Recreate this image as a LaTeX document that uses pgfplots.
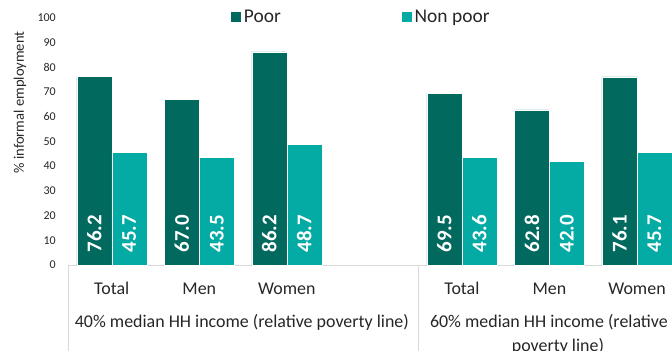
\documentclass[border=0pt]{standalone}
\usepackage{pgfplots}
\pgfplotsset{compat=1.18}
\usetikzlibrary{calc}
\usepackage{fontspec}
\setmainfont{Carlito}
\definecolor{poor}{HTML}{02695F}
\definecolor{nonpoor}{HTML}{04ABA5}
\definecolor{axgray}{HTML}{D9D9D9}
\definecolor{txt}{HTML}{262626}
\begin{document}
\begin{tikzpicture}
\begin{axis}[
  name=ax,
  scale only axis,
  width=604bp, height=247.2bp,
  ymin=0, ymax=100,
  xmin=-0.5, xmax=6.4,
  ytick={0,10,...,100},
  xtick={0,1,2,4,5,6},
  xticklabels={Total,Men,Women,Total,Men,Women},
  major tick length=0pt,
  axis x line*=bottom,
  axis y line*=left,
  y axis line style={draw=none},
  x axis line style={draw=axgray, line width=0.8pt, -},
  /pgf/number format/assume math mode=true,
  yticklabel style={anchor=east, inner sep=0pt, xshift=-12bp, font=\fontsize{12}{14}\selectfont, text=txt},
  xticklabel style={anchor=base, inner sep=0pt, yshift=-29.5bp, font=\fontsize{18}{21}\selectfont, text=txt},
  ybar=0pt, bar width=0.4,
  clip mode=individual,
  visualization depends on={y \as \rawy},
  nodes near coords={\pgfmathprintnumber[fixed,fixed zerofill,precision=1]{\pgfplotspointmeta}},
  every node near coord/.append style={shift={(axis direction cs:0,-\rawy)}, yshift=12.5bp, rotate=90, anchor=west, inner sep=0pt, text=white, font=\bfseries\fontsize{21}{23}\selectfont},
  legend columns=2,
  legend style={at={(rel axis cs:0.2682,1)}, anchor=west, yshift=1bp, draw=none, fill=none, inner sep=0pt, outer sep=0pt,
    font=\fontsize{19.5}{22}\selectfont, text=txt,
    nodes={inner sep=2bp},
    /tikz/every odd column/.append style={column sep=0bp},
    /tikz/every even column/.append style={column sep=118bp}},
  legend image code/.code={\fill[#1] (0bp,-5.6bp) rectangle (11.5bp,5.6bp);},
]
\addplot[fill=poor, draw=white, line width=0.4pt] coordinates {(0,76.2) (1,67.0) (2,86.2) (4,69.5) (5,62.8) (6,76.1)};
\addplot[fill=nonpoor, draw=white, line width=0.4pt] coordinates {(0,45.7) (1,43.5) (2,48.7) (4,43.6) (5,42.0) (6,45.7)};
\legend{Poor, Non poor}
\draw[axgray, line width=0.8pt] (axis cs:-0.5,0) -- ++(0bp,-90bp);
\draw[axgray, line width=0.8pt] (axis cs:3.5,0) -- ++(0bp,-90bp);
\node[anchor=base, inner sep=0pt, font=\fontsize{18}{21}\selectfont, text=txt] at (axis cs:1.486,0) [yshift=-62bp] {40\% median HH income (relative poverty line)};
\node[anchor=base, inner sep=0pt, font=\fontsize{18}{21}\selectfont, text=txt] at (axis cs:4.994,0) [yshift=-62bp] {60\% median HH income (relative};
\node[anchor=base, inner sep=0pt, font=\fontsize{18}{21}\selectfont, text=txt] at (axis cs:5.097,0) [yshift=-86bp] {poverty line)};
\end{axis}
\node[rotate=90, font=\fontsize{14.6}{17}\selectfont, text=txt] at ($(ax.south west)+(-48bp,162.5bp)$) {\% informal employment};
\pgfresetboundingbox
\useasboundingbox (ax.south west) ++(-68bp,-86bp) rectangle ++(672bp,351bp);
\end{tikzpicture}
\end{document}
